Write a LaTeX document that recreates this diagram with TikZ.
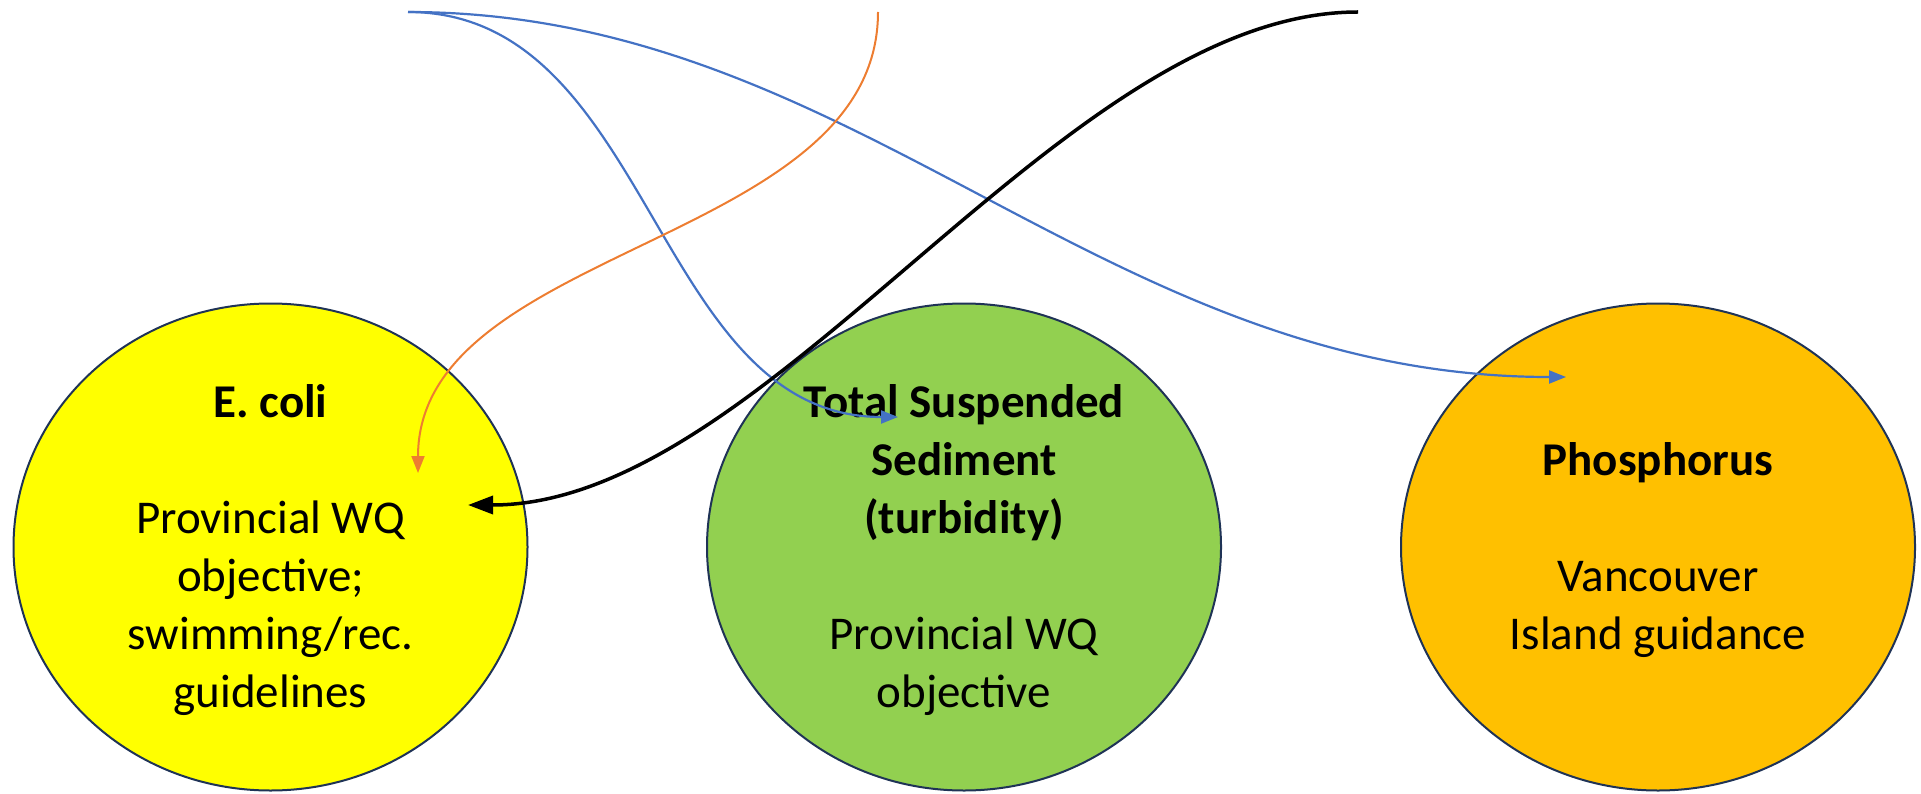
\documentclass[tikz,border=0pt]{standalone}
\usepackage{fontspec}
\setmainfont{Carlito}
\usetikzlibrary{shapes.geometric,arrows.meta}
\definecolor{cyel}{HTML}{FFFF00}
\definecolor{cgrn}{HTML}{92D050}
\definecolor{corg}{HTML}{FFC000}
\definecolor{cnavy}{HTML}{1F3356}
\definecolor{cblue}{HTML}{4472C4}
\definecolor{corange}{HTML}{ED7D31}
\tikzset{
  bubble/.style={ellipse, draw=cnavy, line width=2pt, minimum width=514pt, minimum height=487pt, inner sep=0pt, align=center, font=\fontsize{47}{58}\selectfont},
  bluearrow/.style={draw=cblue, line width=2.2pt, -{Triangle[length=17pt,width=13pt]}},
  orangearrow/.style={draw=corange, line width=2pt, -{Triangle[length=17pt,width=13pt]}},
  blackarrow/.style={draw=black, line width=3.5pt, -{Triangle[length=25pt,width=18pt]}},
}
\begin{document}
\begin{tikzpicture}[x=1pt,y=-1pt]
\useasboundingbox (0,0) rectangle (1921,794);
\node[bubble, fill=cyel] (ecoli) at (270.5,547) {\rule{0pt}{40pt}\textbf{E. coli}\\[58pt]Provincial WQ\\objective;\\swimming/rec.\\guidelines};
\node[bubble, fill=cgrn] (tss) at (964,547) {\rule{0pt}{40pt}\textbf{Total Suspended}\\\textbf{Sediment}\\\textbf{(turbidity)}\\[58pt]Provincial WQ\\objective};
\node[bubble, fill=corg] (phos) at (1658,547) {\rule{0pt}{40pt}\textbf{Phosphorus}\\[58pt]Vancouver\\Island guidance};
% free ends and tips
\coordinate (srcBlue) at (408,12);
\coordinate (srcOrange) at (878,12);
\coordinate (srcBlack) at (1358,12);
\coordinate (tipTss) at (898,417);
\coordinate (tipPhos) at (1566,377);
\coordinate (tipEcoliO) at (418,473);
\coordinate (tipEcoliK) at (468,505);
\draw[bluearrow] (srcBlue) .. controls (653,12) and (653,417) .. (tipTss);
\draw[bluearrow] (srcBlue) .. controls (858,12) and (1100,377) .. (tipPhos);
\draw[orangearrow] (srcOrange) .. controls (878,245) and (418,245) .. (tipEcoliO);
\draw[blackarrow] (srcBlack) .. controls (1060,12) and (770,505) .. (tipEcoliK);
\end{tikzpicture}
\end{document}
